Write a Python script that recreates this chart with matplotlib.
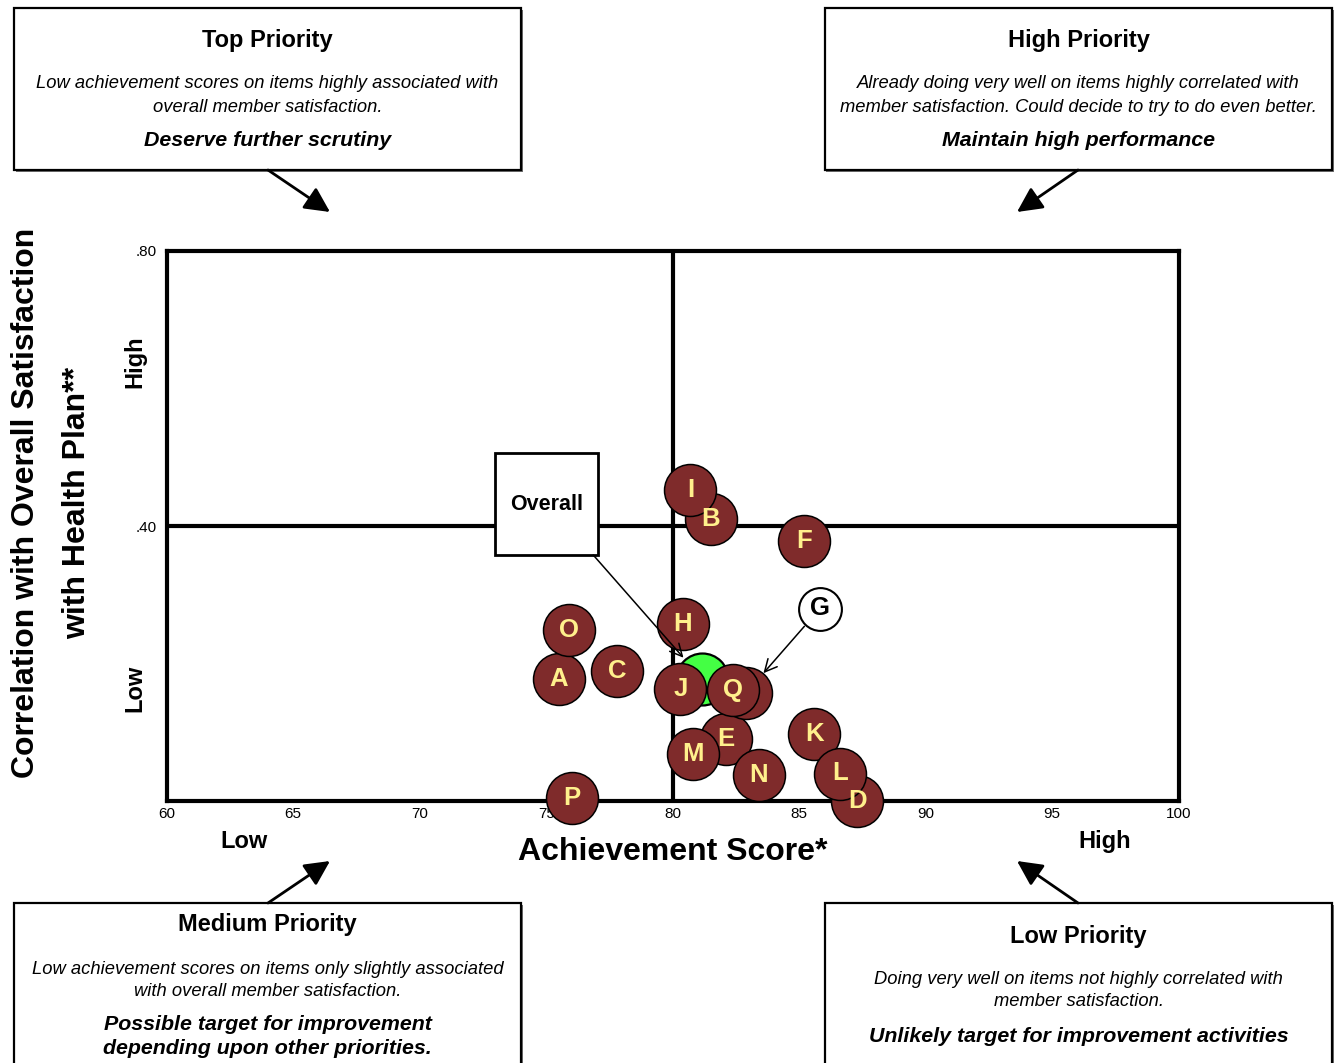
import matplotlib
matplotlib.use("Agg")
import matplotlib.pyplot as plt
from matplotlib.patches import Rectangle, FancyArrowPatch

plt.rcParams['font.family'] = ['Liberation Sans', 'DejaVu Sans']

# ---------------- data ----------------
items = ['A', 'B', 'C', 'D', 'E', 'F', 'G', 'H', 'I', 'J', 'K', 'L', 'M', 'N', 'O', 'P', 'Q']
achievement = [75.5, 81.5, 77.8, 87.3, 82.1, 85.2, 82.9, 80.4, 80.7, 80.3, 85.6, 86.6, 80.8, 83.4, 75.9, 76.0, 82.4]
correlation = [0.177, 0.410, 0.189, 0.000, 0.090, 0.378, 0.157, 0.258, 0.452, 0.163, 0.097, 0.040, 0.068, 0.038, 0.249, 0.004, 0.161]
overall_achievement = 81.15
overall_correlation = 0.178
g_label_pos = (85.82, 0.280)   # callout position for item G

x_ticks = [60, 65, 70, 75, 80, 85, 90, 95, 100]
x_tick_labels = ['60', '65', '70', '75', '80', '85', '90', '95', '100']
y_ticks = [0.40, 0.80]
y_tick_labels = ['.40', '.80']

W, H = 1338, 1063
def fx(px): return px / W
def fy(py): return 1 - py / H

fig = plt.figure(figsize=(W / 100, H / 100), dpi=100)
fig.patch.set_facecolor('white')

ax = fig.add_axes([fx(166.7), fy(801), 1012 / W, 550 / H])
ax.set_xlim(60, 100)
ax.set_ylim(0, 0.80)
for s in ax.spines.values():
    s.set_linewidth(3)
ax.axvline(80, color='black', lw=3, zorder=1)
ax.axhline(0.40, color='black', lw=3, zorder=1)
ax.set_xticks(x_ticks)
ax.set_xticklabels(x_tick_labels, fontsize=11)
ax.set_yticks(y_ticks)
ax.set_yticklabels(y_tick_labels, fontsize=11)
ax.tick_params(length=0, pad=4)
ax.tick_params(axis='y', pad=7)

BROWN = '#7F2B2B'
YELLOW = '#FFF08C'
S = 1400

# overall (green)
ax.scatter([overall_achievement], [overall_correlation], s=S, c='#44FF44',
           edgecolors='black', linewidths=1.6, zorder=3, clip_on=False)
# items
ax.scatter(achievement, correlation, s=S, c=BROWN, edgecolors='black',
           linewidths=1.1, zorder=4, clip_on=False)
for name, xv, yv in zip(items, achievement, correlation):
    if name == 'G':
        continue
    ax.text(xv, yv, name, ha='center', va='center', fontsize=18.5, fontweight='bold',
            color=YELLOW, zorder=5, clip_on=False)

# G callout
gi = items.index('G')
ax.scatter([g_label_pos[0]], [g_label_pos[1]], s=950, c='white', edgecolors='black',
           linewidths=1.5, zorder=4)
ax.text(g_label_pos[0], g_label_pos[1], 'G', ha='center', va='center', fontsize=18.5,
        fontweight='bold', color='black', zorder=5)
ax.annotate('', xy=(achievement[gi], correlation[gi]), xytext=g_label_pos,
            arrowprops=dict(arrowstyle='->', lw=1.1, color='black',
                            shrinkA=17, shrinkB=19, mutation_scale=22), zorder=6)

# Overall callout box
box_x0, box_x1 = (495 - 166.7) / 1012, (598.3 - 166.7) / 1012
box_y0, box_y1 = (801 - 555) / 550, (801 - 453.3) / 550
ax.add_patch(Rectangle((box_x0, box_y0), box_x1 - box_x0, box_y1 - box_y0,
                       transform=ax.transAxes, facecolor='white', edgecolor='black',
                       lw=2, zorder=6))
ax.text((box_x0 + box_x1) / 2, (box_y0 + box_y1) / 2, 'Overall', transform=ax.transAxes,
        ha='center', va='center', fontsize=15.5, fontweight='bold', zorder=7)
ax.annotate('', xy=(overall_achievement, overall_correlation),
            xytext=(box_x1 - 0.005, box_y0), textcoords='axes fraction',
            arrowprops=dict(arrowstyle='->', lw=1.1, color='black',
                            shrinkA=0, shrinkB=20, mutation_scale=22), zorder=7)

# axis texts
ax.text(0.5, -0.093, 'Achievement Score*', transform=ax.transAxes, ha='center',
        va='center', fontsize=23, fontweight='bold')
ax.text(0.0764, -0.0745, 'Low', transform=ax.transAxes, ha='center', va='center',
        fontsize=17, fontweight='bold')
ax.text(0.927, -0.0745, 'High', transform=ax.transAxes, ha='center', va='center',
        fontsize=17, fontweight='bold')
ax.text(-0.031, 0.798, 'High', transform=ax.transAxes, ha='center', va='center',
        rotation=90, fontsize=17, fontweight='bold')
ax.text(-0.031, 0.205, 'Low', transform=ax.transAxes, ha='center', va='center',
        rotation=90, fontsize=17, fontweight='bold')
fig.text(fx(51.5), fy(503), 'Correlation with Overall Satisfaction\nwith Health Plan**',
         rotation=90, ha='center', va='center', multialignment='center',
         fontsize=23, fontweight='bold', linespacing=1.95)

# priority boxes
def draw_box(x0, y0, x1, y1):
    fig.patches.append(Rectangle((fx(x0 + 1.5), fy(y1 + 1.5)), (x1 - x0) / W, (y1 - y0) / H,
                                 transform=fig.transFigure, facecolor='#707070',
                                 edgecolor='none', zorder=1))
    fig.patches.append(Rectangle((fx(x0), fy(y1)), (x1 - x0) / W, (y1 - y0) / H,
                                 transform=fig.transFigure, facecolor='white',
                                 edgecolor='black', lw=1.6, zorder=2))

def draw_arrow(x0, y0, x1, y1):
    fig.patches.append(FancyArrowPatch((fx(x0), fy(y0)), (fx(x1), fy(y1)),
                                       transform=fig.transFigure, arrowstyle='-|>',
                                       mutation_scale=38, lw=2, color='black',
                                       shrinkA=0, shrinkB=0, zorder=3))

def line(xc, yc, s, size, weight='normal', style='normal'):
    fig.text(fx(xc), fy(yc + 2), s, ha='center', va='center', fontsize=size,
             fontweight=weight, fontstyle=style, zorder=4)

TS, DS, BS = 17, 13.2, 15.4

# Top Priority
draw_box(14, 8, 521, 170)
line(267.5, 39, 'Top Priority', TS, 'bold')
line(267.5, 82, 'Low achievement scores on items highly associated with', DS, style='italic')
line(267.5, 105, 'overall member satisfaction.', DS, style='italic')
line(267.5, 138, 'Deserve further scrutiny', BS, 'bold', 'italic')
draw_arrow(268, 170, 330, 212)

# High Priority
draw_box(825, 8, 1332, 170)
line(1078.5, 39, 'High Priority', TS, 'bold')
line(1078.5, 82, 'Already doing very well on items highly correlated with', DS, style='italic')
line(1078.5, 105, 'member satisfaction. Could decide to try to do even better.', DS, style='italic')
line(1078.5, 138, 'Maintain high performance', BS, 'bold', 'italic')
draw_arrow(1078, 170, 1017, 212)

# Medium Priority
draw_box(14, 903, 521, 1075)
line(267.5, 923, 'Medium Priority', TS, 'bold')
line(267.5, 968, 'Low achievement scores on items only slightly associated', DS, style='italic')
line(267.5, 990, 'with overall member satisfaction.', DS, style='italic')
line(267.5, 1023, 'Possible target for improvement', BS, 'bold', 'italic')
line(267.5, 1046, 'depending upon other priorities.', BS, 'bold', 'italic')
draw_arrow(268, 903, 330, 861)

# Low Priority
draw_box(825, 903, 1332, 1075)
line(1078.5, 934, 'Low Priority', TS, 'bold')
line(1078.5, 978, 'Doing very well on items not highly correlated with', DS, style='italic')
line(1078.5, 1000, 'member satisfaction.', DS, style='italic')
line(1078.5, 1034, 'Unlikely target for improvement activities', BS, 'bold', 'italic')
draw_arrow(1078, 903, 1017, 861)

fig.savefig('out.png', dpi=100, facecolor='white')
